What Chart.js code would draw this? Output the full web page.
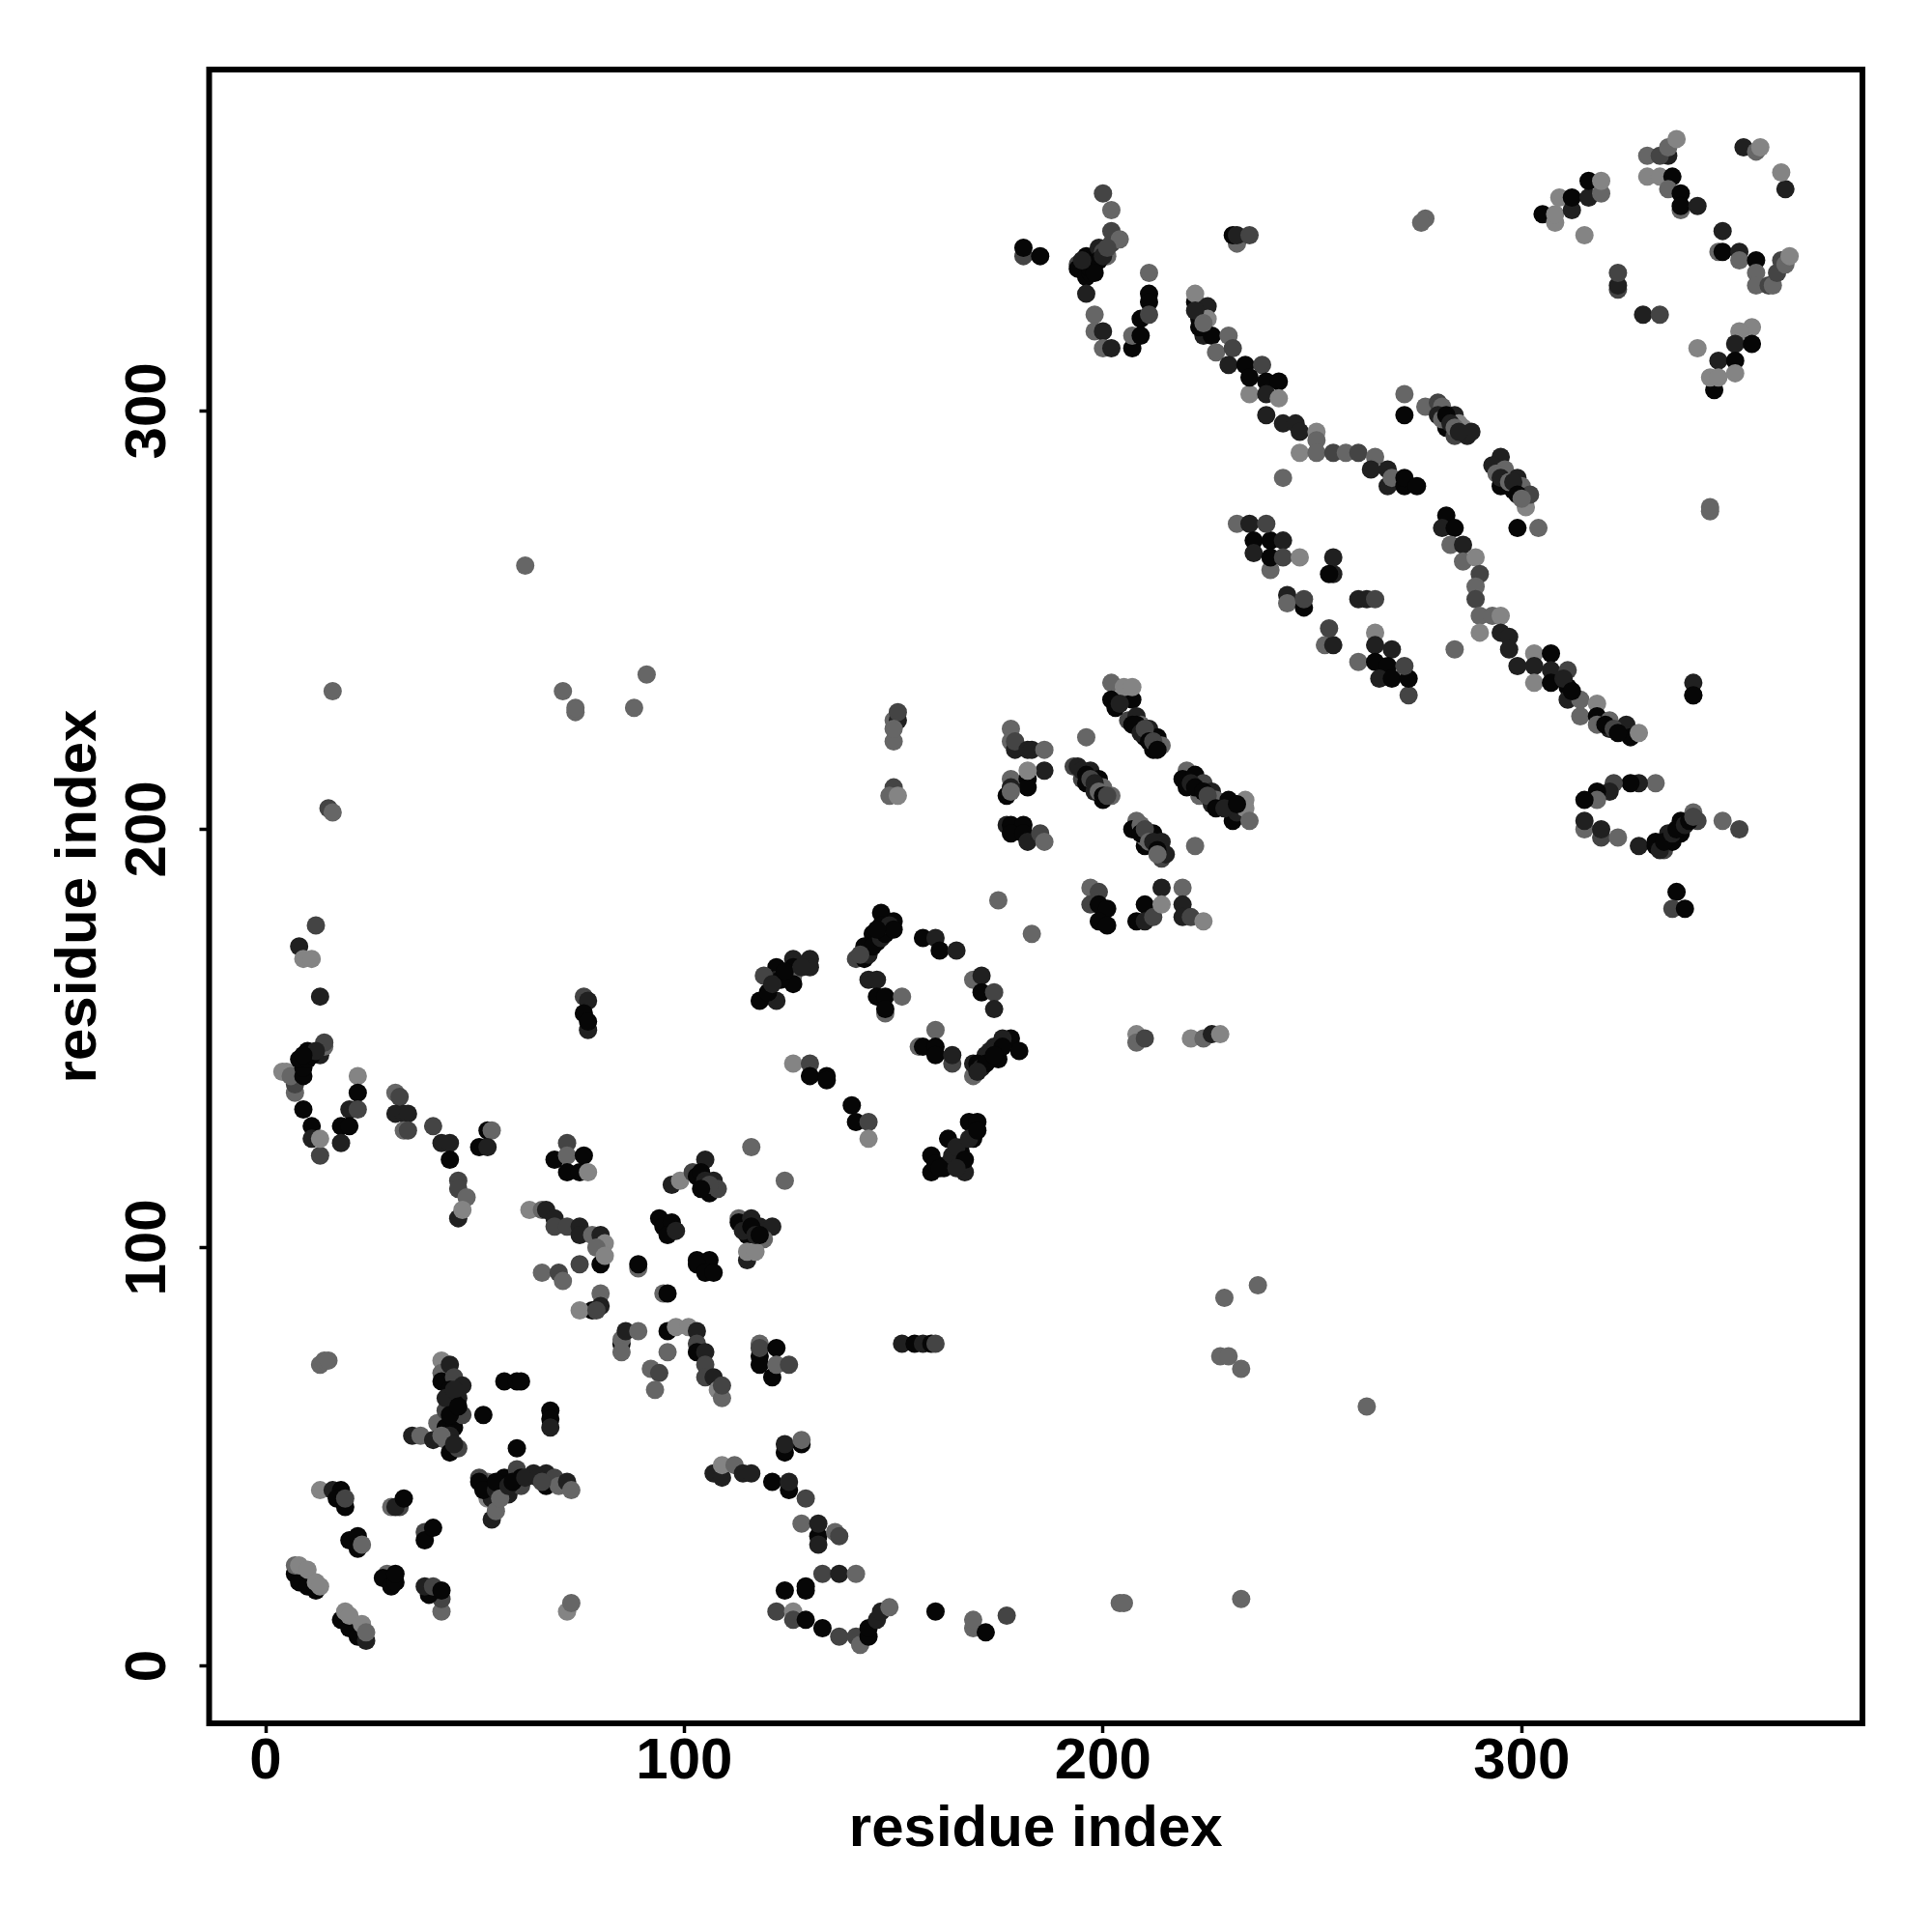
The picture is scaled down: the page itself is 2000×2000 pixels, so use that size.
<!DOCTYPE html>
<html lang="en">
<head>
<meta charset="utf-8" />
<title>residue contacts</title>
<script src="https://cdn.jsdelivr.net/npm/chart.js@4.4.1/dist/chart.umd.min.js"></script>
<style>
  html, body { margin: 0; padding: 0; background: #fff; }
  canvas { display: block; }
</style>
</head>
<body>
<canvas id="c" width="2000" height="2000"></canvas>
<script>
const axisLabel = 'residue index';
const xTicks = [0, 100, 200, 300];
const yTicks = [0, 100, 200, 300];

// one line per cluster, same order in all three arrays
const residueX = [
  7,8,10,12,7,8,10,12,13,
  18,20,22,24,19,20,23,24,
  13,16,18,17,19,19,
  20,22,22,23,
  30,32,31,33,
  38,38,40,
  29,28,30,31,31,
  42,42,39,38,40,42,
  13,14,15,
  42,42,42,44,45,47,46,45,41,43,43,45,45,47,
  35,37,40,43,44,46,
  52,57,60,61,68,68,68,60,
  53,54,53,51,51,54,55,
  57,57,58,60,61,61,64,67,67,69,70,72,73,
  72,73,
  72,69,72,76,72,75,77,
  63,66,67,69,69,72,75,75,78,80,81,79,80,81,75,
  66,70,71,80,80,78,75,79,
  89,89,95,96,
  94,95,97,96,98,103,106,103,105,107,
  97,99,102,105,103,106,107,108,
  116,124,
  113,113,116,118,121,115,119,115,115,117,
  85,85,86,89,85,
  96,98,101,103,103,96,103,105,105,92,94,93,105,107,108,109,109,
  118,118,118,118,122,121,122,125,
  152,155,157,159,160,
  124,128,124,128,
  107,109,109,112,114,116,
  121,125,125,129,128,132,132,132,136,137,
  124,129,129,133,137,141,122,126,126,129,133,137,141,142,144,144,146,147,149,
  160,169,169,172,177,204,205,233,
  263,233,228,230,229,237,
  12,8,9,11,13,
  5,4,7,7,6,9,9,8,10,10,13,14,14,
  9,11,11,13,13,
  22,22,20,22,18,20,18,
  31,32,31,33,34,33,34,
  40,42,44,44,
  53,54,51,53,
  46,46,48,46,47,
  76,77,76,77,77,
  150,150,151,151,150,
  150,149,151,
  178,178,179,179,182,183,186,
  186,178,182,182,178,177,178,182,
  177,178,181,178,181,182,185,186,
  196,
  193,194,197,195,196,199,198,200,200,202,
  202,202,207,205,207,206,208,209,207,211,210,213,212,214,
  220,219,222,220,224,226,223,226,227,230,231,232,234,234,235,
  208,207,209,212,210,210,212,214,214,215,
  222,
  197,199,197,199,201,199,201,
  214,219,210,219,208,210,212,214,219,221,224,
  175,183,
  147,150,147,148,145,143,146,141,143,
  157,160,161,165,169,171,171,174,174,
  144,146,146,148,152,148,148,
  160,156,157,160,160,164,164,
  178,176,180,174,172,175,169,169,170,171,
  126,130,130,134,134,
  208,208,210,221,224,226,228,
  126,130,130,122,126,126,122,126,122,118,119,123,
  140,141,144,144,
  159,159,163,163,166,168,170,166,169,162,164,167,
  62,71,74,74,88,91,16,15,16,
  181,181,185,
  200,202,194,194,196,197,196,198,199,200,201,202,202,204,196,
  211,211,211,209,211,198,198,200,200,202,207,207,209,
  232,231,232,235,
  277,276,
  222,222,225,223,225,224,226,230,227,231,230,234,238,
  235,235,239,242,239,242,
  239,243,246,247,251,251,247,251,255,258,261,265,264,268,268,269,272,272,275,243,
  272,272,277,280,281,280,282,284,285,284,286,287,288,
  295,293,295,296,299,298,300,301,302,
  299,304,
  345,345,
  305,308,308,309,312,312,316,316,319,319,315,
  330,333,330,335,333,335,337,336,335,338,338,338,342,
  353,356,357,363,362,
  348,347,348,352,352,356,356,356,359,360,361,362,363,364,
  323,323,323,
  329,333,
  342,355,352,351,355,347,351,346,345,347,351,
  232,235,236,240,243,240,236,240,243,247,239,
  255,255,254,244,244,248,248,
  253,255,254,
  261,263,265,
  265,265,269,261,265,268,266,269,273,273,272,
  282,281,284,283,286,286,289,290,289,289,290,293,295,290,295,297,297,284,299,
  303,307,303,307,303,307,311,311,311,314,318,314,318,318,321,321,325,326,328,
  341,341,341,
  332,328,326,322,321,318,318,315,
  315,315,319,319,323,328,334,332,332,336,335,338,338,341,342,348,352,
  337,336,339,
  // denser runs inside the bands
  144,145,147,148,149,150,146,142,
  160,161,165,167,168,165,170,
  173,176,172,174,170,
  195,196,197,198,199,200,201,
  203,204,208,209,210,211,212,213,
  209,210,211,212,213,213,
  221,222,224,225,227,229,232,
  197,198,199,200,201,198,195,
  222,223,224,
  281,282,283,284,285,
  294,295,297,298,299,300,
  333,334,336,337,339,340,341,
  44,43,45,44,46,44,42,45,
  52,55,55,56,58,59,62,65,66,
  120,121,124,128,
  104,105,106,104,
  114,116,117,118,
  11,12,9,
  310,312,320,322,323
];
const residueY = [
  22,20,19,18,24,24,23,20,19,
  11,9,7,6,13,12,10,8,
  42,42,42,40,38,40,
  30,31,28,29,
  38,38,38,40,
  32,30,33,
  22,21,19,20,22,
  13,16,17,19,19,18,
  72,73,73,
  73,70,68,72,69,67,64,63,58,61,57,57,60,60,
  55,55,54,54,51,52,
  60,68,68,68,61,59,57,52,
  40,40,44,45,44,35,37,
  45,42,41,47,45,43,46,46,43,45,43,44,42,
  13,15,
  125,121,122,122,118,118,118,
  109,109,109,107,105,105,105,103,103,103,101,100,96,98,96,
  94,94,92,89,86,85,85,85,
  95,96,89,89,
  107,105,106,103,104,97,97,96,94,94,
  115,116,118,121,117,113,116,114,
  124,116,
  107,106,107,105,105,103,102,97,99,99,
  77,78,80,80,75,
  80,81,81,80,77,75,75,75,72,71,70,66,69,69,66,64,67,
  77,74,72,76,76,69,72,72,
  77,77,77,77,77,
  51,53,53,54,
  46,45,48,48,46,46,
  44,42,44,40,34,31,29,34,32,31,
  18,18,19,22,22,22,13,13,11,11,9,7,7,5,7,9,11,13,14,
  13,9,11,8,12,15,15,16,
  62,71,74,74,88,91,
  177,172,169,169,160,
  142,142,137,139,141,141,143,145,145,147,146,148,149,
  133,129,126,122,126,
  141,137,133,133,129,129,125,
  137,136,132,132,132,128,128,
  129,125,125,121,
  128,128,124,124,
  116,114,112,107,109,
  160,159,156,152,154,
  221,226,226,228,224,
  210,208,208,
  224,221,219,221,219,219,219,
  214,212,212,210,210,208,209,214,
  201,201,201,199,199,197,199,197,
  222,
  215,215,214,212,211,212,209,207,210,208,
  235,231,231,234,234,226,227,225,225,224,222,222,219,220,
  214,212,213,210,211,209,208,206,207,207,202,204,207,205,202,
  202,200,201,199,196,198,196,197,193,194,
  196,
  186,185,182,182,181,178,177,
  186,186,182,182,178,178,179,182,179,179,178,
  183,175,
  180,178,177,176,175,172,173,169,169,
  174,174,171,171,164,165,161,161,157,
  164,164,160,160,160,156,157,
  152,148,148,148,146,144,146,
  150,150,147,148,146,145,141,144,144,143,
  144,144,141,141,140,
  151,149,150,150,150,151,151,
  169,169,167,167,167,165,164,163,159,159,165,164,
  134,130,130,126,
  118,122,120,126,123,130,130,120,126,119,122,118,
  263,233,228,229,229,237,233,205,204,
  337,339,337,
  352,348,335,334,332,333,337,336,339,338,337,340,343,341,328,
  333,328,326,322,323,323,319,319,315,315,315,318,318,
  340,342,342,342,
  346,345,
  326,328,325,322,322,318,318,318,314,315,311,311,311,
  304,308,307,307,304,303,
  299,297,297,295,295,293,290,290,290,290,290,289,286,286,282,284,282,284,282,284,
  304,299,301,302,301,299,296,299,297,294,296,294,295,
  289,287,282,286,284,281,282,277,280,
  272,272,
  277,276,
  347,345,347,351,348,351,351,355,352,355,342,
  356,356,361,361,361,363,365,356,353,348,352,349,349,
  363,362,363,353,357,
  343,338,338,338,336,336,333,330,330,330,333,336,335,337,
  329,330,333,
  323,323,
  315,320,319,316,316,312,312,305,308,308,309,
  273,273,269,269,269,262,266,265,265,265,273,
  265,261,261,256,254,253,255,
  244,244,248,
  255,255,255,
  247,244,243,240,240,239,236,236,232,236,239,
  275,272,272,268,268,264,265,261,258,255,251,251,251,247,247,246,243,243,239,
  242,242,239,238,235,235,234,238,231,231,230,227,227,225,226,224,225,222,223,
  232,235,232,
  211,211,211,211,209,209,207,207,
  200,202,198,200,198,196,195,196,197,197,199,199,202,204,202,202,200,
  185,181,181,
  // denser runs inside the bands
  170,172,174,175,177,176,176,170,
  120,119,124,121,126,119,128,
  147,148,144,146,142,
  214,213,212,211,209,208,208,
  229,230,225,223,224,221,221,219,
  199,200,197,197,195,194,
  211,210,209,208,205,205,206,
  334,335,336,337,339,333,336,
  324,320,321,
  298,299,297,296,295,
  285,284,283,283,280,279,
  195,197,199,200,201,202,203,
  66,64,66,60,62,55,55,53,
  42,42,44,40,43,44,45,45,44,
  161,163,166,167,
  118,116,115,114,
  104,105,103,103,
  146,147,146,
  236,233,225,224,223
];
// 0 strongest .. 4 weakest
const contactScore = [
  0,0,0,0,3,4,4,4,4,
  0,0,0,1,4,4,4,3,
  4,1,0,0,0,2,
  0,0,0,3,
  3,2,1,0,
  2,0,0,
  3,0,0,0,0,
  3,2,0,1,2,0,
  3,3,3,
  4,3,0,1,2,1,1,0,3,2,0,0,0,2,
  1,3,1,3,0,2,
  0,0,0,0,0,0,1,0,
  4,1,3,2,0,1,3,
  0,0,1,2,0,2,1,1,0,2,3,1,3,
  4,3,
  2,0,3,0,0,0,4,
  4,3,1,1,2,2,1,1,3,1,4,3,0,4,2,
  3,2,3,3,1,0,4,2,
  3,0,3,0,
  0,0,0,0,1,0,0,0,0,0,
  1,4,2,1,0,0,1,2,
  3,3,
  3,0,1,1,1,0,3,1,4,4,
  0,3,1,3,3,
  0,4,4,1,2,3,0,1,2,3,2,3,2,1,4,3,2,
  3,0,0,2,0,0,3,2,
  1,0,1,0,2,
  0,0,1,3,
  1,1,4,3,1,1,
  0,0,1,2,3,0,1,1,3,2,
  0,0,0,2,1,3,2,4,2,0,0,2,2,3,0,0,1,1,3,
  0,3,3,0,2,3,3,3,
  3,3,3,3,3,3,
  2,1,4,4,1,
  4,4,3,2,3,0,0,0,0,0,1,3,2,
  0,0,1,2,4,
  4,0,1,2,0,0,1,
  3,2,1,1,1,3,2,
  2,1,1,0,
  0,3,0,1,
  2,2,3,1,4,
  2,1,0,1,0,
  3,3,1,2,3,
  2,3,4,
  3,3,1,2,1,1,3,
  1,3,0,0,1,0,3,4,
  1,0,0,0,0,1,2,3,
  3,
  2,1,1,2,0,0,1,0,3,3,
  3,0,0,4,4,2,1,3,0,1,0,0,0,3,
  3,0,0,0,2,1,3,1,3,0,0,1,4,4,3,
  3,0,3,0,0,3,0,1,2,1,
  3,
  3,2,2,0,0,0,0,
  1,3,0,1,0,1,2,4,1,2,4,
  3,3,
  0,0,0,1,0,0,0,2,0,
  0,1,0,1,3,1,0,2,1,
  1,1,0,0,3,3,0,
  3,3,0,0,0,2,1,
  0,1,0,1,1,0,3,1,0,1,
  4,2,0,0,0,
  4,3,2,4,3,1,4,
  1,1,1,0,0,3,1,0,1,0,2,0,
  0,0,2,4,
  0,0,1,0,0,0,0,1,0,0,1,1,
  3,3,3,3,3,3,3,2,3,
  2,0,0,
  2,3,2,0,0,0,0,0,1,2,3,2,2,3,1,
  3,0,0,0,2,3,3,1,3,1,0,3,0,
  3,0,1,2,
  3,3,
  0,4,1,0,4,1,0,3,3,2,1,0,2,
  4,0,0,0,1,4,
  1,1,1,1,4,3,4,3,2,3,2,3,1,1,1,3,0,0,0,3,
  3,0,3,2,3,1,0,1,4,2,4,1,1,
  1,1,0,3,1,0,3,4,2,
  0,3,
  3,3,
  0,4,4,4,1,0,1,0,3,4,4,
  4,4,3,1,2,3,4,0,3,3,0,0,1,
  1,3,4,1,4,
  1,3,0,1,3,0,3,3,2,3,2,2,3,4,
  2,1,2,
  1,2,
  4,4,4,1,0,1,0,0,4,4,4,
  3,1,0,0,1,3,1,0,2,4,2,
  1,1,0,1,3,0,2,
  3,1,2,
  1,1,2,
  4,1,1,3,0,0,1,0,2,0,2,
  0,1,0,3,1,3,4,2,3,2,3,3,4,4,1,1,1,3,1,
  4,0,1,1,4,0,0,2,1,3,4,3,0,3,3,1,1,0,4,
  2,1,0,
  3,1,0,2,1,0,3,0,
  3,1,2,1,3,1,2,0,0,0,1,0,0,3,2,3,2,
  0,2,0,
  // denser runs inside the bands
  1,0,1,0,1,0,0,2,
  0,0,1,0,1,1,0,
  1,0,0,0,1,
  1,0,2,1,3,0,2,
  0,1,0,1,2,0,2,0,
  0,2,3,1,0,3,
  1,0,0,2,0,1,0,
  0,1,0,1,2,0,1,
  1,0,3,
  3,0,1,3,1,
  3,1,3,1,0,3,
  1,0,1,0,1,0,2,
  0,1,1,0,0,1,3,1,
  0,1,0,3,1,0,1,1,2,
  0,1,0,1,
  0,1,2,0,
  1,0,1,0,
  0,1,0,
  1,0,0,2,0
];
const greyLevels = [6, 32, 68, 102, 132];

const pointColors = contactScore.map((s) => {
  const g = greyLevels[s];
  return `rgb(${g},${g},${g})`;
});
const points = residueX.map((x, i) => ({ x, y: residueY[i] }));

const FONT = 'Liberation Sans';

// box round the plot and the rotated y tick labels, R style
const frame = {
  id: 'frame',
  afterDraw(chart) {
    const { ctx, chartArea: a, scales } = chart;
    ctx.save();
    ctx.strokeStyle = '#000';
    ctx.lineWidth = 6;
    ctx.strokeRect(a.left, a.top, a.right - a.left, a.bottom - a.top);
    ctx.fillStyle = '#000';
    ctx.font = `bold 60px "${FONT}"`;
    ctx.textAlign = 'center';
    ctx.textBaseline = 'alphabetic';
    for (const v of yTicks) {
      ctx.save();
      ctx.translate(171, scales.y.getPixelForValue(v));
      ctx.rotate(-Math.PI / 2);
      ctx.fillText(String(v), 0, 0);
      ctx.restore();
    }
    ctx.restore();
  },
};

new Chart(document.getElementById('c'), {
  type: 'scatter',
  data: {
    datasets: [{
      data: points,
      backgroundColor: pointColors,
      borderWidth: 0,
      pointRadius: 9.5,
      clip: false,
    }],
  },
  options: {
    responsive: false,
    animation: false,
    events: [],
    layout: { padding: { top: 72, right: 72, left: 0, bottom: 0 } },
    plugins: { legend: { display: false }, tooltip: { enabled: false } },
    scales: {
      x: {
        type: 'linear',
        min: -13.5,
        max: 381.4,
        afterBuildTicks: (s) => { s.ticks = xTicks.map((value) => ({ value })); },
        afterFit: (s) => { s.height = 216; },
        border: { display: false },
        grid: { drawOnChartArea: false, tickLength: 10, tickWidth: 3.5, tickColor: '#000' },
        ticks: {
          color: '#000',
          font: { family: FONT, size: 60, weight: 'bold' },
          padding: -6,
          maxRotation: 0,
        },
        title: {
          display: true,
          text: axisLabel,
          color: '#000',
          font: { family: FONT, size: 60, weight: 'bold' },
          padding: { top: 0, bottom: 70 },
        },
      },
      y: {
        type: 'linear',
        min: -13.74,
        max: 381.6,
        afterBuildTicks: (s) => { s.ticks = yTicks.map((value) => ({ value })); },
        afterFit: (s) => { s.width = 216.5; },
        border: { display: false },
        grid: { drawOnChartArea: false, tickLength: 10, tickWidth: 3.5, tickColor: '#000' },
        ticks: { display: false },
        title: {
          display: true,
          text: axisLabel,
          color: '#000',
          font: { family: FONT, size: 60, weight: 'bold' },
          padding: { top: 46, bottom: 0 },
        },
      },
    },
  },
  plugins: [frame],
});
</script>
</body>
</html>
